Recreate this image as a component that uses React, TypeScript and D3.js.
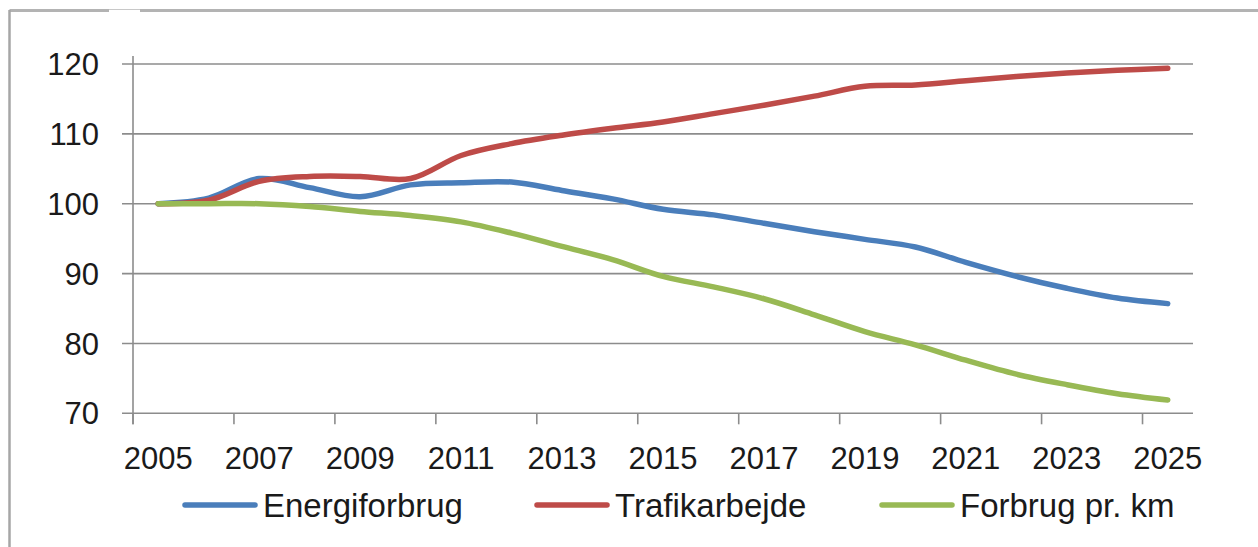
import React from "react";
import * as d3 from "d3";

const years: number[] = [2005,2006,2007,2008,2009,2010,2011,2012,2013,2014,2015,2016,2017,2018,2019,2020,2021,2022,2023,2024,2025];
const energiforbrug: number[] = [100,100.8,103.6,102.3,101.0,102.7,103.0,103.1,101.9,100.7,99.2,98.4,97.2,96.0,94.9,93.8,91.6,89.6,87.9,86.5,85.7];
const trafikarbejde: number[] = [100,100.5,103.2,103.9,103.9,103.6,106.9,108.6,109.8,110.8,111.7,112.9,114.1,115.4,116.8,117.0,117.6,118.2,118.7,119.1,119.4];
const forbrugPrKm: number[] = [100,100,100,99.6,98.9,98.3,97.4,95.8,93.9,92.0,89.6,88.1,86.4,84.1,81.7,79.8,77.6,75.6,74.1,72.8,71.9];
const yTicks: number[] = [70,80,90,100,110,120];
const xTickLabels: string[] = ["2005","2007","2009","2011","2013","2015","2017","2019","2021","2023","2025"];

const seriesNames = ["Energiforbrug", "Trafikarbejde", "Forbrug pr. km"];
const seriesColors = ["#4A7EBB", "#BE4B48", "#98B954"];

const W = 1258, H = 547;
const L = 133, R = 1193, T = 64, B = 413.3;
const FONT = "'Liberation Sans', Arial, sans-serif";
const FS = 31;
const LFS = 33;
const GRID = "#8c8c8c";

export default function App() {
  const x = d3.scaleBand<number>().domain(years).range([L, R]).paddingInner(0).paddingOuter(0);
  const y = d3.scaleLinear().domain([70, 120]).range([B, T]);
  const cx = (yr: number) => (x(yr) as number) + x.bandwidth() / 2;
  const line = d3.line<[number, number]>()
    .x(d => cx(d[0]))
    .y(d => y(d[1]))
    .curve(d3.curveCatmullRom.alpha(0.5));
  const data = [energiforbrug, trafikarbejde, forbrugPrKm];
  const tickYears = years.filter((_, i) => i % 2 === 0);
  const legendX = [185, 537, 882];

  return (
    <svg width={W} height={H} style={{ position: "absolute", left: 0, top: 0, background: "#fff" }}>
      <rect x={0} y={0} width={W} height={H} fill="#fff" />
      {/* outer chart border */}
      <line x1={9.5} y1={10.5} x2={W + 5} y2={10.5} stroke="#b3b3b3" strokeWidth={3} />
      <line x1={9.5} y1={10} x2={9.5} y2={H + 5} stroke="#a6a6a6" strokeWidth={2.5} />
      <rect x={109} y={8} width={31} height={6} fill="#fff" />
      <line x1={109} y1={9.5} x2={140} y2={9.5} stroke="#c8c8c8" strokeWidth={1} />

      {/* gridlines + y ticks */}
      {yTicks.map(t => (
        <g key={t}>
          <line x1={122} x2={R} y1={y(t)} y2={y(t)} stroke={GRID} strokeWidth={1.6} />
          <text x={99} y={y(t)} dy="0.36em" textAnchor="end" fontFamily={FONT} fontSize={FS} fill="#1a1a1a">{t}</text>
        </g>
      ))}
      {/* y axis */}
      <line x1={L} x2={L} y1={T - 8} y2={B + 11} stroke={GRID} strokeWidth={1.6} />
      {/* x ticks */}
      {tickYears.map((yr) => (
        <line key={yr} x1={x(yr) as number} x2={x(yr) as number} y1={B} y2={B + 11} stroke={GRID} strokeWidth={1.6} />
      ))}
      {xTickLabels.map((lab, i) => (
        <text key={lab} x={cx(years[i * 2])} y={469} textAnchor="middle" fontFamily={FONT} fontSize={FS} fill="#1a1a1a">{lab}</text>
      ))}

      {/* lines */}
      {data.map((vals, k) => (
        <path key={k} d={line(years.map((yr, i) => [yr, vals[i]] as [number, number])) || ""}
          fill="none" stroke={seriesColors[k]} strokeWidth={5.5} strokeLinecap="round" strokeLinejoin="round" />
      ))}

      {/* legend */}
      {seriesNames.map((n, k) => (
        <g key={n}>
          <line x1={legendX[k]} x2={legendX[k] + 70} y1={505} y2={505} stroke={seriesColors[k]} strokeWidth={5.5} strokeLinecap="round" />
          <text x={legendX[k] + 78} y={505} dy="0.36em" fontFamily={FONT} fontSize={LFS} fill="#1a1a1a">{n}</text>
        </g>
      ))}
    </svg>
  );
}
